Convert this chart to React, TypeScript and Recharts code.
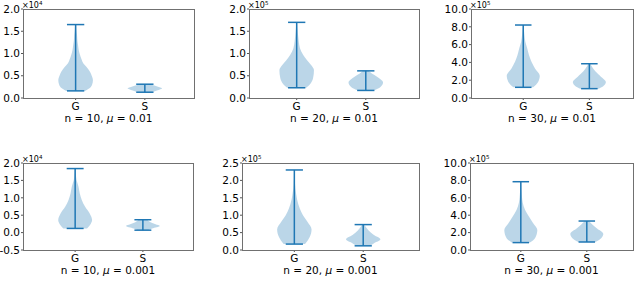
import React from 'react';
import { ComposedChart, Area, XAxis, YAxis, ReferenceLine } from 'recharts';

const categories = ['G', 'S'];

// violin profiles: [value, relative half-width]
const g10_01 = [[0.16, 0.55], [0.22, 0.8], [0.3, 0.95], [0.4, 1.0], [0.5, 0.93], [0.59, 0.83], [0.7, 0.62], [0.78, 0.44], [0.88, 0.33], [0.97, 0.25], [1.08, 0.18], [1.19, 0.14], [1.3, 0.1], [1.42, 0.08], [1.53, 0.05], [1.65, 0.03]];
const s10_01 = [[0.13, 0.35], [0.17, 0.7], [0.22, 1.0], [0.25, 0.8], [0.28, 0.55], [0.31, 0.3]];
const g20_01 = [[0.23, 0.55], [0.3, 0.75], [0.45, 0.95], [0.63, 1.0], [0.75, 0.82], [0.85, 0.6], [0.97, 0.37], [1.12, 0.19], [1.27, 0.12], [1.5, 0.06], [1.7, 0.02]];
const s20_01 = [[0.17, 0.45], [0.25, 0.85], [0.35, 1.0], [0.42, 0.85], [0.48, 0.65], [0.55, 0.35], [0.61, 0.15]];
const g30_01 = [[1.2, 0.6], [1.8, 0.9], [2.5, 1.0], [3.3, 0.72], [4.1, 0.49], [4.8, 0.35], [5.6, 0.24], [6.3, 0.13], [7.1, 0.07], [8.2, 0.02]];
const s30_01 = [[1.05, 0.55], [1.3, 0.82], [1.8, 1.0], [2.4, 0.7], [3.0, 0.36], [3.5, 0.16], [3.85, 0.06]];
const g10_001 = [[0.12, 0.7], [0.25, 0.92], [0.36, 1.0], [0.55, 0.86], [0.74, 0.59], [0.94, 0.39], [1.13, 0.27], [1.32, 0.2], [1.51, 0.08], [1.7, 0.04], [1.84, 0.02]];
const s10_001 = [[0.07, 0.3], [0.12, 0.55], [0.19, 1.0], [0.24, 0.75], [0.3, 0.45], [0.37, 0.25]];
const g20_001 = [[0.17, 0.62], [0.38, 0.9], [0.59, 1.0], [0.81, 0.76], [1.0, 0.5], [1.2, 0.31], [1.43, 0.17], [1.62, 0.1], [1.9, 0.04], [2.3, 0.02]];
const s20_001 = [[0.12, 0.4], [0.2, 0.65], [0.31, 1.0], [0.44, 0.6], [0.57, 0.3], [0.66, 0.15], [0.73, 0.06]];
const g30_001 = [[0.85, 0.55], [1.35, 0.86], [2.3, 1.0], [3.1, 0.74], [3.8, 0.51], [4.6, 0.26], [5.4, 0.12], [6.1, 0.07], [7.85, 0.02]];
const s30_001 = [[0.92, 0.5], [1.25, 0.8], [1.85, 1.0], [2.5, 0.6], [2.9, 0.35], [3.33, 0.12]];

const ticks2 = [0, 0.5, 1, 1.5, 2];
const ticksNeg = [-0.5, 0, 0.5, 1, 1.5, 2];
const ticks25 = [0, 0.5, 1, 1.5, 2, 2.5];
const ticks10 = [0, 2, 4, 6, 8, 10];

const BLUE = '#1f77b4';
const FONT = '"DejaVu Sans", sans-serif';
const HALF = 0.25; // max half width of a violin, x units
const CAP = 0.125;
const YW = 30;
const TM = 6;
const RM = 4;
const XH = 24;

const panels = [
  { g: g10_01, s: s10_01, yTicks: ticks2, exp: 4, n: 10, mu: '0.01', xDomain: [0.24, 2.71], frame: { x: 23, y: 9, w: 171, h: 89 } },
  { g: g20_01, s: s20_01, yTicks: ticks2, exp: 5, n: 20, mu: '0.01', xDomain: [0.31, 2.77], frame: { x: 249, y: 9, w: 170, h: 89 } },
  { g: g30_01, s: s30_01, yTicks: ticks10, exp: 5, n: 30, mu: '0.01', xDomain: [0.21, 2.66], frame: { x: 471, y: 9, w: 162, h: 89 } },
  { g: g10_001, s: s10_001, yTicks: ticksNeg, exp: 4, n: 10, mu: '0.001', xDomain: [0.23, 2.74], frame: { x: 23, y: 163, w: 170, h: 87 } },
  { g: g20_001, s: s20_001, yTicks: ticks25, exp: 5, n: 20, mu: '0.001', xDomain: [0.24, 2.81], frame: { x: 242, y: 163, w: 177, h: 87 } },
  { g: g30_001, s: s30_001, yTicks: ticks10, exp: 5, n: 30, mu: '0.001', xDomain: [0.23, 2.7], frame: { x: 470, y: 163, w: 163, h: 87 } },
];

function toRows(profile: number[][], pos: number) {
  return profile.map(([v, w]) => ({ v, r: [pos - w * HALF, pos + w * HALF] }));
}

function extremaLines(profile: number[][], pos: number) {
  const lo = profile[0][0];
  const hi = profile[profile.length - 1][0];
  const segs = [
    [{ x: pos, y: lo }, { x: pos, y: hi }],
    [{ x: pos - CAP, y: lo }, { x: pos + CAP, y: lo }],
    [{ x: pos - CAP, y: hi }, { x: pos + CAP, y: hi }],
  ];
  return segs.map((seg, i) => (
    <ReferenceLine key={`${pos}-${i}`} segment={seg} stroke={BLUE} strokeWidth={1.5} ifOverflow="visible" />
  ));
}

function Panel({ p }: { p: (typeof panels)[number] }) {
  const { x, y, w, h } = p.frame;
  const yDomain = [p.yTicks[0], p.yTicks[p.yTicks.length - 1]];
  const tickStyle = { fontSize: 10.5, fill: '#000', fontFamily: FONT };
  return (
    <>
      <div style={{ position: 'absolute', left: x - YW, top: y - TM }}>
        <ComposedChart
          layout="vertical"
          width={w + YW + RM}
          height={h + TM + XH}
          margin={{ top: TM, right: RM, bottom: 0, left: 0 }}
        >
          <XAxis
            type="number"
            domain={p.xDomain}
            allowDataOverflow
            ticks={[1, 2]}
            tickFormatter={(t: number) => categories[Math.round(t) - 1]}
            height={XH}
            tick={tickStyle}
            tickSize={2}
            tickMargin={2.5}
            axisLine={false}
            tickLine={{ stroke: '#555' }}
          />
          <YAxis
            type="number"
            dataKey="v"
            reversed
            domain={yDomain}
            allowDataOverflow
            ticks={p.yTicks}
            interval={0}
            tickFormatter={(t: number) => t.toFixed(1)}
            width={YW}
            tick={tickStyle}
            tickSize={2}
            tickMargin={1}
            axisLine={false}
            tickLine={{ stroke: '#555' }}
          />
          <Area data={toRows(p.g, 1)} dataKey="r" type="monotone" fill={BLUE} fillOpacity={0.3} stroke="none" isAnimationActive={false} />
          <Area data={toRows(p.s, 2)} dataKey="r" type="monotone" fill={BLUE} fillOpacity={0.3} stroke="none" isAnimationActive={false} />
          {extremaLines(p.g, 1)}
          {extremaLines(p.s, 2)}
        </ComposedChart>
      </div>
      <div
        style={{
          position: 'absolute', left: x, top: y, width: w + 1, height: h + 1,
          border: '1px solid #707070', boxSizing: 'border-box', pointerEvents: 'none',
        }}
      />
      <div style={{ position: 'absolute', left: x - 1, top: y - 7.5, fontSize: 8, lineHeight: '8px', height: 8, fontFamily: FONT, color: '#000', whiteSpace: 'nowrap' }}>
        ×10<span style={{ fontSize: 5.5, lineHeight: '5px', position: 'relative', top: -2.5 }}>{p.exp}</span>
      </div>
      <div
        style={{
          position: 'absolute', left: x, width: w, top: y + h + 14, textAlign: 'center',
          fontSize: 10.5, lineHeight: '12px', fontFamily: FONT, color: '#000', whiteSpace: 'nowrap',
        }}
      >
        n = {p.n}, <i>μ</i> = {p.mu}
      </div>
    </>
  );
}

export default function App() {
  return (
    <div style={{ position: 'absolute', left: 0, top: 0, width: 640, height: 296, background: '#fff', overflow: 'hidden' }}>
      {panels.map((p, i) => (
        <Panel key={i} p={p} />
      ))}
    </div>
  );
}
